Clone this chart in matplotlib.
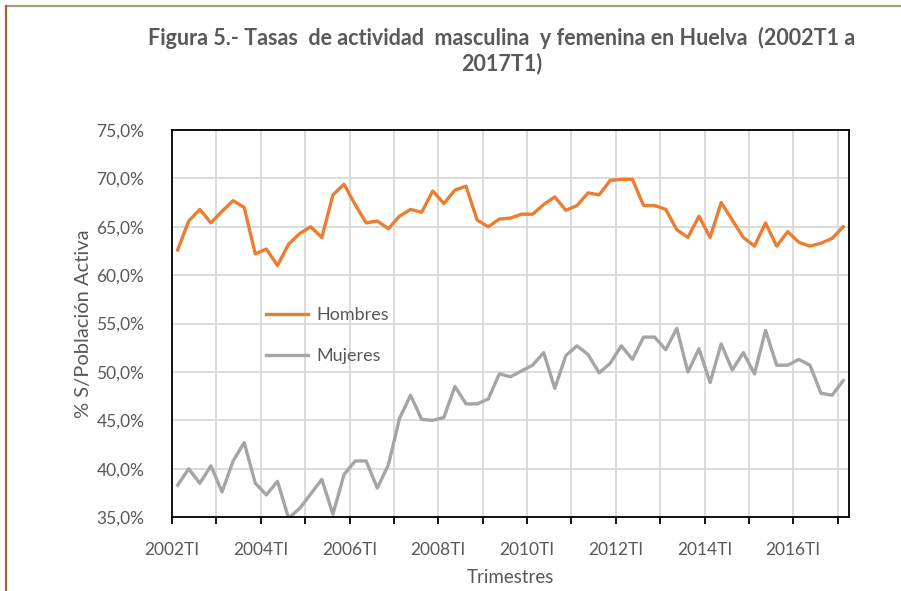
import matplotlib
matplotlib.use("Agg")
import matplotlib.pyplot as plt
import numpy as np

plt.rcParams['font.family'] = ['Lato', 'DejaVu Sans']

# 2002T1 .. 2017T1 (61 trimestres)
hombres = [62.6, 65.6, 66.8, 65.4, 66.6, 67.7, 67.0, 62.2, 62.7, 61.0,
           63.2, 64.3, 65.0, 63.9, 68.3, 69.4, 67.3, 65.4, 65.6, 64.8,
           66.1, 66.8, 66.5, 68.7, 67.4, 68.8, 69.2, 65.7, 65.0, 65.8,
           65.9, 66.3, 66.3, 67.3, 68.1, 66.7, 67.2, 68.5, 68.3, 69.8,
           69.9, 69.9, 67.2, 67.2, 66.8, 64.7, 63.9, 66.1, 63.9, 67.5,
           65.7, 63.9, 63.0, 65.4, 63.0, 64.5, 63.4, 63.0, 63.3, 63.8,
           65.0]
mujeres = [38.3, 40.0, 38.5, 40.3, 37.6, 40.8, 42.7, 38.5, 37.3, 38.7,
           34.9, 35.9, 37.4, 38.9, 35.3, 39.4, 40.8, 40.8, 38.0, 40.4,
           45.2, 47.6, 45.1, 45.0, 45.3, 48.5, 46.7, 46.7, 47.2, 49.8,
           49.5, 50.1, 50.7, 52.0, 48.3, 51.7, 52.7, 51.8, 49.9, 50.9,
           52.7, 51.3, 53.6, 53.6, 52.3, 54.5, 50.0, 52.4, 48.9, 52.9,
           50.2, 52.0, 49.8, 54.3, 50.7, 50.7, 51.3, 50.7, 47.8, 47.6,
           49.1]
years = list(range(2002, 2018))
tick_labels = [f"{y}TI" if (y - 2002) % 2 == 0 else "" for y in years]

text_color = '#595959'
x = np.arange(len(hombres)) + 0.5

fig = plt.figure(figsize=(9.01, 5.91), dpi=100)
ax = fig.add_axes([0.191, 0.125, 0.751, 0.655])

ax.plot(x, hombres, color='#ED7D31', lw=2.4, label='Hombres', solid_joinstyle='round')
ax.plot(x, mujeres, color='#A5A5A5', lw=2.4, label='Mujeres', solid_joinstyle='round')

ax.set_xlim(0, 61)
ax.set_ylim(35, 75)
ax.set_xticks(np.arange(0, 61, 4))
ax.set_xticklabels(tick_labels)
ax.set_yticks(np.arange(35, 76, 5))
ax.set_yticklabels([f"{v:.1f}%".replace('.', ',') for v in np.arange(35, 76, 5)])
ax.grid(True, color='#D9D9D9', lw=1.3)
ax.set_axisbelow(True)
for s in ax.spines.values():
    s.set_color('black')
    s.set_linewidth(1.3)
ax.tick_params(axis='x', direction='out', length=5, width=1.3, colors='black',
               labelcolor=text_color, labelsize=12.5, pad=13)
ax.tick_params(axis='y', length=0, labelcolor=text_color, labelsize=12.5, pad=20)

ax.set_xlabel('Trimestres', fontsize=13.5, color=text_color, labelpad=8)
ax.set_ylabel('% S/Población Activa', fontsize=14.5, color=text_color, labelpad=3)

ax.legend(loc='upper left', bbox_to_anchor=(0.115, 0.585), frameon=False,
          fontsize=13, labelcolor=text_color, handlelength=2.3, labelspacing=1.4,
          handletextpad=0.5)

fig.text(0.557, 0.955, 'Figura 5.- Tasas  de actividad  masculina  y femenina en Huelva  (2002T1 a\n2017T1)',
         ha='center', va='top', fontsize=15.5, fontweight='bold', color=text_color,
         linespacing=1.25)

# borde exterior
fig.add_artist(plt.Line2D([0.007, 1.0], [0.99, 0.99], color='#B09A78', lw=1.6))
fig.add_artist(plt.Line2D([0.007, 0.007], [0.0, 0.99], color='#A0662A', lw=1.6))

fig.savefig('out.png', dpi=100)
